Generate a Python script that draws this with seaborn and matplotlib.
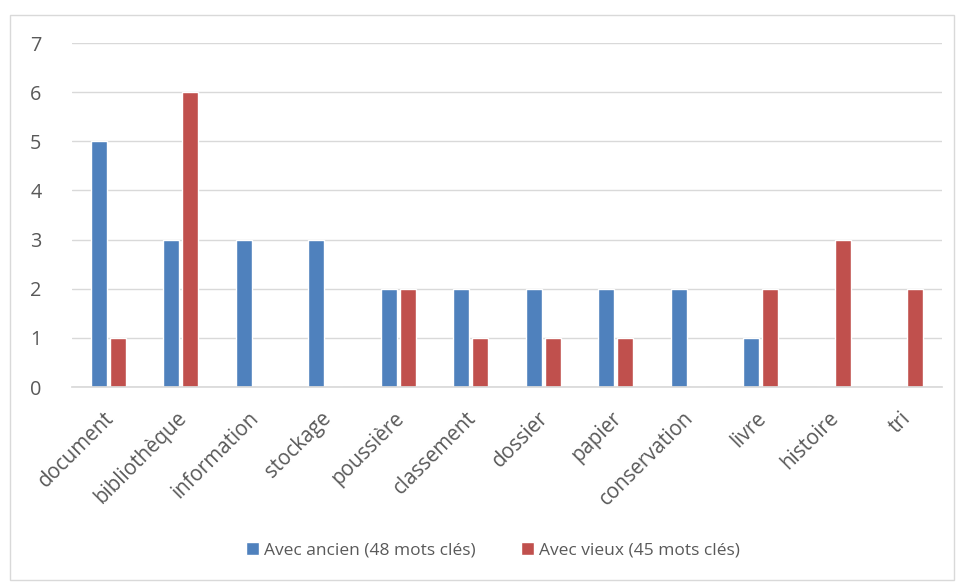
import pandas as pd
import matplotlib.pyplot as plt
import matplotlib.transforms as mtransforms
import seaborn as sns
from matplotlib.patches import Rectangle

# Mots clés et fréquences
categories = ['document', 'bibliothèque', 'information', 'stockage', 'poussière',
              'classement', 'dossier', 'papier', 'conservation', 'livre', 'histoire', 'tri']
ancien = [5, 3, 3, 3, 2, 2, 2, 2, 2, 1, 0, 0]
vieux = [1, 6, 0, 0, 2, 1, 1, 1, 0, 2, 3, 2]
series_names = ['Avec ancien (48 mots clés)', 'Avec vieux (45 mots clés)']
colors = ['#4F81BD', '#C0504D']

df = pd.DataFrame({'mot': categories * 2,
                   'n': ancien + vieux,
                   'serie': [series_names[0]] * len(categories) + [series_names[1]] * len(categories)})

sns.set_theme(style='white')
plt.rcParams['font.family'] = ['Open Sans', 'DejaVu Sans']

fig = plt.figure(figsize=(9.57, 5.82), dpi=100)
ax = fig.add_axes([0.0752, 0.335, 0.909, 0.591])

sns.barplot(data=df, x='mot', y='n', hue='serie', palette=colors, width=0.52, gap=0.15,
            saturation=1, ax=ax, legend=True)

ax.set_ylim(0, 7)
ax.set_yticks(range(0, 8))
ax.set_xlim(-0.5, len(categories) - 0.5)
ax.yaxis.grid(True, color='#D9D9D9', linewidth=1)
ax.set_axisbelow(True)
for s in ['top', 'right', 'left']:
    ax.spines[s].set_visible(False)
ax.spines['bottom'].set_color('#D9D9D9')
ax.tick_params(axis='y', length=0, labelsize=14.3, colors='#595959', pad=22)
ax.tick_params(axis='x', length=0, labelsize=14.8, colors='#595959', pad=12)
ax.set_xlabel('')
ax.set_ylabel('')
shift = mtransforms.ScaledTranslation(-0.05, -0.04, fig.dpi_scale_trans)
for lab in ax.get_xticklabels():
    lab.set_rotation(45)
    lab.set_ha('right')
    lab.set_rotation_mode('anchor')
    lab.set_transform(lab.get_transform() + shift)

handles, labels = ax.get_legend_handles_labels()
ax.legend_.remove()
fig.legend(handles, labels, loc='center', bbox_to_anchor=(0.515, 0.054), ncol=2, frameon=False,
           fontsize=12.5, labelcolor='#595959', handlelength=0.75, handleheight=0.75,
           handletextpad=0.3, columnspacing=2.6)

# cadre du graphique
fig.patches.append(Rectangle((10 / 957, 0.003), 944 / 957, 1 - 15 / 582 - 0.003,
                             transform=fig.transFigure, fill=False, edgecolor='#D9D9D9', linewidth=1))

fig.savefig('out.png', dpi=100)
